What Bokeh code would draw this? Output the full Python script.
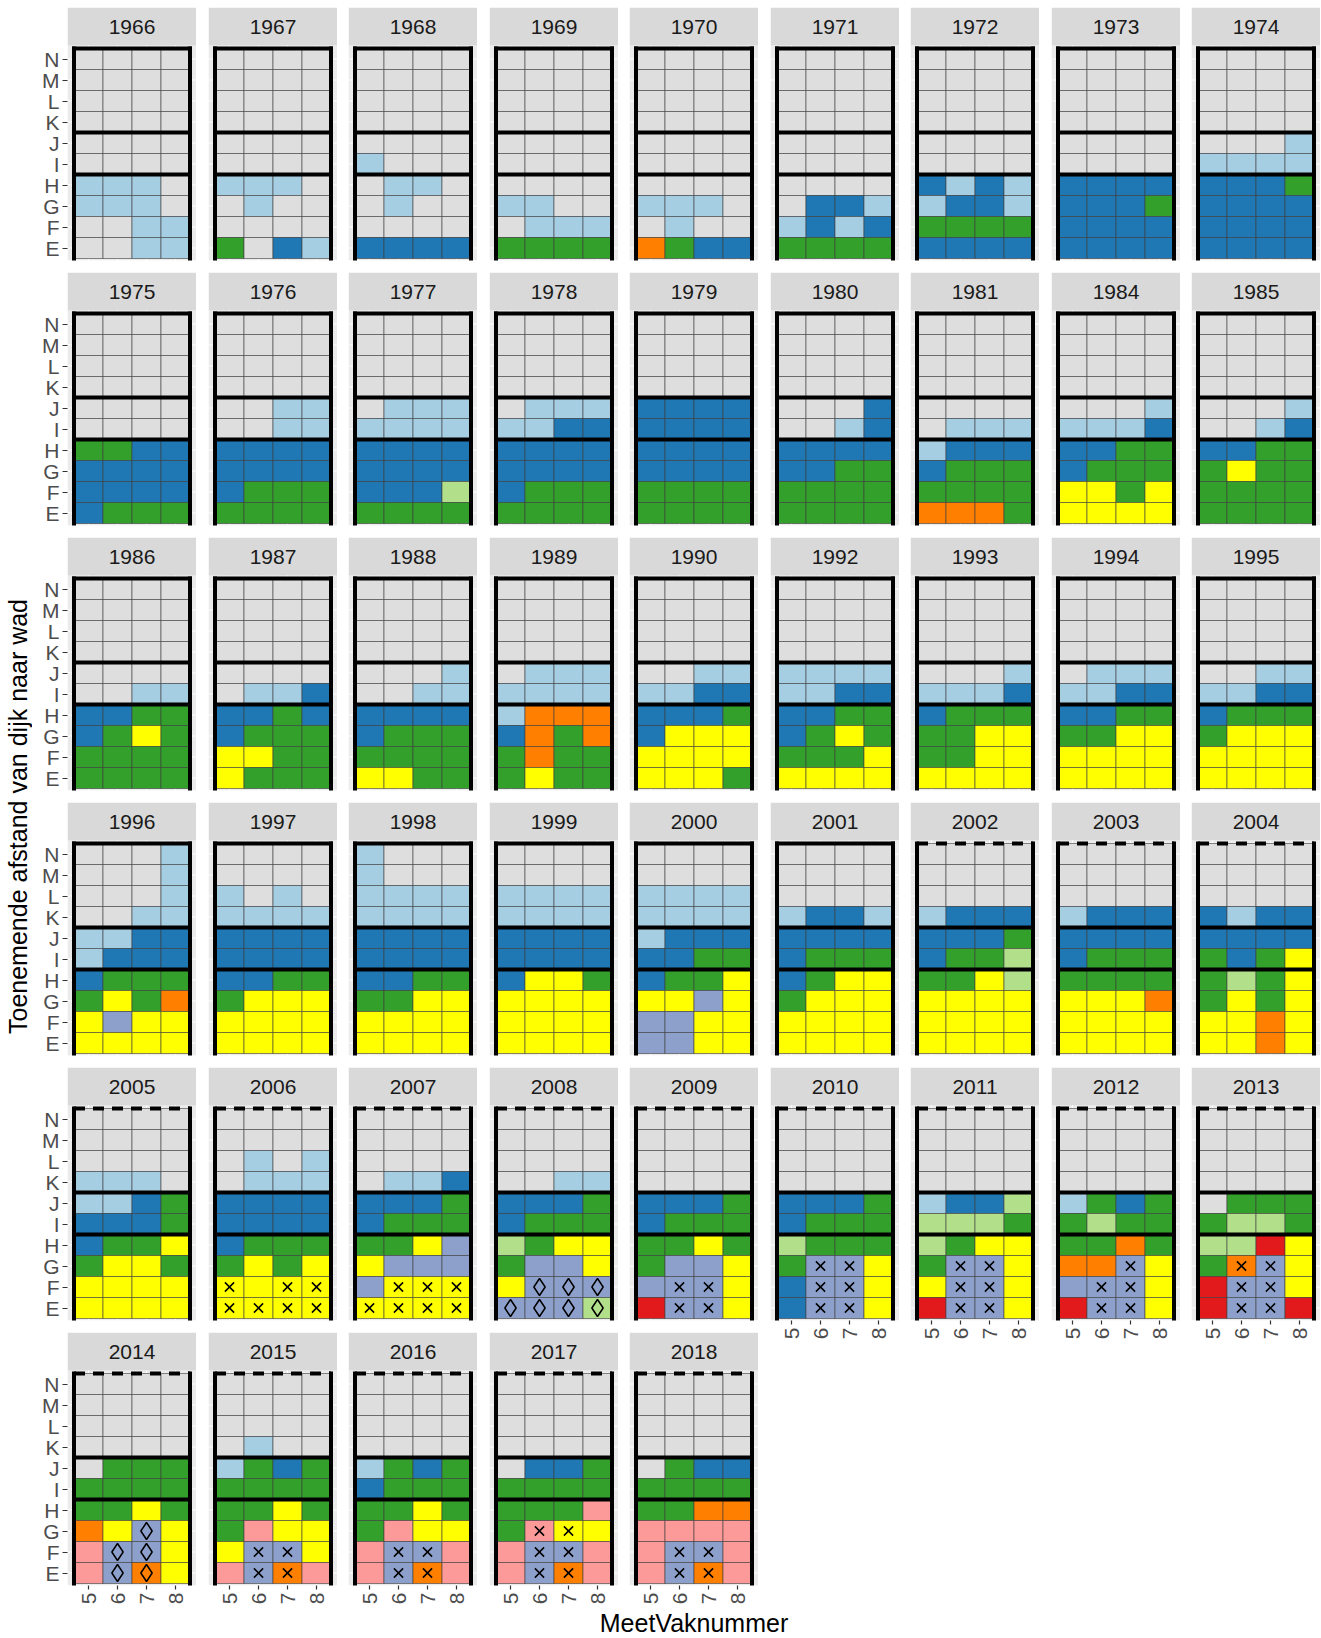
import math
from bokeh.plotting import figure
from bokeh.layouts import row, column
from bokeh.models import Range1d, FixedTicker, ColumnDataSource
from bokeh.core.properties import value
from bokeh.embed import file_html
from bokeh.resources import INLINE

# ---------------- data ----------------
YEARS = [1966, 1967, 1968, 1969, 1970, 1971, 1972, 1973, 1974,
         1975, 1976, 1977, 1978, 1979, 1980, 1981, 1984, 1985,
         1986, 1987, 1988, 1989, 1990, 1992, 1993, 1994, 1995,
         1996, 1997, 1998, 1999, 2000, 2001, 2002, 2003, 2004,
         2005, 2006, 2007, 2008, 2009, 2010, 2011, 2012, 2013,
         2014, 2015, 2016, 2017, 2018]

# class code per cell, rows listed N (top) ... E (bottom), columns 5 6 7 8
CLASS_GRID = [
    "gggg gggg gggg gggg gggg gggg aaag aaag ggaa ggaa",  # 1966
    "gggg gggg gggg gggg gggg gggg aaag gagg gggg Ggba",  # 1967
    "gggg gggg gggg gggg gggg aggg gaag gagg gggg bbbb",  # 1968
    "gggg gggg gggg gggg gggg gggg gggg aagg gaaa GGGG",  # 1969
    "gggg gggg gggg gggg gggg gggg gggg aaag gagg oGbb",  # 1970
    "gggg gggg gggg gggg gggg gggg gggg gbba abab GGGG",  # 1971
    "gggg gggg gggg gggg gggg gggg baba abba GGGG bbbb",  # 1972
    "gggg gggg gggg gggg gggg gggg bbbb bbbG bbbb bbbb",  # 1973
    "gggg gggg gggg gggg ggga aaaa bbbG bbbb bbbb bbbb",  # 1974
    "gggg gggg gggg gggg gggg gggg GGbb bbbb bbbb bGGG",  # 1975
    "gggg gggg gggg gggg ggaa ggaa bbbb bbbb bGGG GGGG",  # 1976
    "gggg gggg gggg gggg gaaa aaaa bbbb bbbb bbbl GGGG",  # 1977
    "gggg gggg gggg gggg gaaa aabb bbbb bbbb bGGG GGGG",  # 1978
    "gggg gggg gggg gggg bbbb bbbb bbbb bbbb GGGG GGGG",  # 1979
    "gggg gggg gggg gggg gggb ggab bbbb bbGG GGGG GGGG",  # 1980
    "gggg gggg gggg gggg gggg gaaa abbb bGGG GGGG oooG",  # 1981
    "gggg gggg gggg gggg ggga aaab bbGG bGGG yyGy yyyy",  # 1984
    "gggg gggg gggg gggg ggga ggab bbGG GyGG GGGG GGGG",  # 1985
    "gggg gggg gggg gggg gggg ggaa bbGG bGyG GGGG GGGG",  # 1986
    "gggg gggg gggg gggg gggg gaab bbGb bGGG yyGG yGGG",  # 1987
    "gggg gggg gggg gggg ggga ggaa bbbb bGGG GGGG yyGG",  # 1988
    "gggg gggg gggg gggg gaaa aaaa aooo boGo GoGG GyGG",  # 1989
    "gggg gggg gggg gggg ggaa aabb bbbG byyy yyyy yyyG",  # 1990
    "gggg gggg gggg gggg aaaa aabb bbGG bGyG GGGy yyyy",  # 1992
    "gggg gggg gggg gggg ggga aaab bGGG GGyy GGyy yyyy",  # 1993
    "gggg gggg gggg gggg gaaa aabb bbGG GGyy yyyy yyyy",  # 1994
    "gggg gggg gggg gggg ggaa aabb bGGG Gyyy yyyy yyyy",  # 1995
    "ggga ggga ggga ggaa aabb abbb bGGG GyGo yvyy yyyy",  # 1996
    "gggg gggg agag aaaa bbbb bbbb bbGG Gyyy yyyy yyyy",  # 1997
    "aggg aggg aaaa aaaa bbbb bbbb bbGG GGyy yyyy yyyy",  # 1998
    "gggg gggg aaaa aaaa bbbb bbbb byyG yyyy yyyy yyyy",  # 1999
    "gggg gggg aaaa aaaa abbb bbGG bGGy yyvy vvyy vvyy",  # 2000
    "gggg gggg gggg abba bbbb bGGG bGyy Gyyy yyyy yyyy",  # 2001
    "gggg gggg gggg abbb bbbG bGGl GGyl yyyy yyyy yyyy",  # 2002
    "gggg gggg gggg abbb bbbb bGGG GGGG yyyo yyyy yyyy",  # 2003
    "gggg gggg gggg babb bbbb GbGy GlGy GyGy yyoy yyoy",  # 2004
    "gggg gggg gggg aaag aabG bbbG bGGy GyyG yyyy yyyy",  # 2005
    "gggg gggg gaga gaaa bbbb bbbb bGGG GyGy yyyy yyyy",  # 2006
    "gggg gggg gggg gaab bbbG bGGG GGyv yvvv vyyy yyyy",  # 2007
    "gggg gggg gggg ggaa bbbG bGGG lGyy Gvvy yvvv vvvl",  # 2008
    "gggg gggg gggg gggg bbbG bGGG GGyG Gvvy vvvy rvvy",  # 2009
    "gggg gggg gggg gggg bbbG bGGG lGGG Gvvy bvvy bvvy",  # 2010
    "gggg gggg gggg gggg abbl lllG lGyy Gvvy yvvy rvvy",  # 2011
    "gggg gggg gggg gggg aGbG GlGG GGoG oovy vvvy rvvy",  # 2012
    "gggg gggg gggg gggg gGGG GllG llry Govy rvvy rvvr",  # 2013
    "gggg gggg gggg gggg gGGG GGGG GGyG oyvy pvvy pvoy",  # 2014
    "gggg gggg gggg gagg aGbG GGGG GGyG Gpyy yvvy pvop",  # 2015
    "gggg gggg gggg gggg aGbG bGGG GGyG Gpyy pvvp pvop",  # 2016
    "gggg gggg gggg gggg gbbG GGGG GGGp Gpyy pvvp pvop",  # 2017
    "gggg gggg gggg gggg gGbb GGGG GGoo pppp pvvp pvop",  # 2018
]

# symbols in rows G, F, E (x = cross, d = diamond)
MARK_YEARS = [2006, 2007, 2008, 2009, 2010, 2011, 2012, 2013, 2014, 2015, 2016, 2017, 2018]
MARK_GRID = [
    ".... x.xx xxxx",   # 2006
    ".... .xxx xxxx",   # 2007
    ".... .ddd dddd",   # 2008
    ".... .xx. .xx.",   # 2009
    ".xx. .xx. .xx.",   # 2010
    ".xx. .xx. .xx.",   # 2011
    "..x. .xx. .xx.",   # 2012
    ".xx. .xx. .xx.",   # 2013
    "..d. .dd. .dd.",   # 2014
    ".... .xx. .xx.",   # 2015
    ".... .xx. .xx.",   # 2016
    ".xx. .xx. .xx.",   # 2017
    ".... .xx. .xx.",   # 2018
]
MARK_ROWS = ["G", "F", "E"]

ROW_LABELS = ["E", "F", "G", "H", "I", "J", "K", "L", "M", "N"]
COL_VALUES = [5, 6, 7, 8]
COL_LABELS = ["5", "6", "7", "8"]
ZONE_TOPS = ["H", "J"]          # thick line above these rows
DASHED_FROM = 2002               # top edge dashed from this year on

X_TITLE = "MeetVaknummer"
Y_TITLE = "Toenemende afstand van dijk naar wad"

# ---------------- style ----------------
PALETTE = {
    "g": "#DEDEDE", "a": "#A6CEE3", "b": "#1F78B4", "l": "#B2DF8A",
    "G": "#33A02C", "p": "#FB9A99", "r": "#E31A1C", "o": "#FF7F00",
    "y": "#FFFF00", "v": "#8DA0CB",
}
FONT = "Liberation Sans"
NCOL = 9
FW, FH = 129, 253          # frame size per facet (panel + strip)
CW, CH = 29.0, 21.0        # px per cell
PAD_X = 6.5 / CW
PAD_B = 2.0 / CH
PAD_T = 3.0 / CH
GAPS_H = [12, 11, 12, 11, 12, 11, 12, 11]
GAP_V = 12
TOP_M = 7
LEFT_AXIS_W = 35
BOTTOM_AXIS_H = 22
YT_W = 31
YT_TOP = 25
TICK_FS = "21px"
TITLE_FS = "25px"

x_lo = min(COL_VALUES) - 0.5
x_hi = max(COL_VALUES) + 0.5
y_lo = -0.5
y_hi = len(ROW_LABELS) - 0.5
X0, X1 = x_lo - PAD_X, x_hi + PAD_X
Y0 = y_lo - PAD_B
PANEL_TOP = y_hi + PAD_T
Y1 = Y0 + FH / CH

mark_lookup = dict(zip(MARK_YEARS, MARK_GRID))


def style_axis(ax):
    ax.axis_line_color = None
    ax.major_tick_line_color = "#333333"
    ax.major_tick_line_width = 1.2
    ax.major_tick_out = 5
    ax.major_tick_in = 0
    ax.minor_tick_line_color = None
    ax.major_label_text_font = FONT
    ax.major_label_text_font_size = TICK_FS
    ax.major_label_text_color = "#4D4D4D"
    ax.major_label_standoff = 3


def make_panel(idx):
    yr = YEARS[idx]
    c = idx % NCOL
    r = idx // NCOL
    is_left = c == 0
    is_bottom = idx + NCOL >= len(YEARS)
    p = figure(frame_width=FW, frame_height=FH,
               x_range=Range1d(X0, X1), y_range=Range1d(Y0, Y1),
               output_backend="svg", toolbar_location=None, tools="",
               x_axis_location="below" if is_bottom else None,
               y_axis_location="left" if is_left else None,
               min_border_left=LEFT_AXIS_W if is_left else GAPS_H[c - 1],
               min_border_right=0, min_border_top=TOP_M if r == 0 else 0,
               min_border_bottom=BOTTOM_AXIS_H if is_bottom else GAP_V)
    p.outline_line_color = None
    p.background_fill_color = "white"
    p.border_fill_color = "white"
    p.grid.visible = False

    # panel background + strip
    p.quad(left=[X0], right=[X1], bottom=[Y0], top=[PANEL_TOP],
           fill_color="#EBEBEB", line_color=None)
    p.quad(left=[X0], right=[X1], bottom=[PANEL_TOP], top=[Y1],
           fill_color="#D9D9D9", line_color=None)
    p.text(x=[(X0 + X1) / 2], y=[(PANEL_TOP + Y1) / 2], text=[str(yr)],
           text_align="center", text_baseline="middle",
           text_font=value(FONT), text_font_size=TICK_FS, text_color="#1A1A1A")

    # white grid lines
    ys = list(range(len(ROW_LABELS)))
    p.segment(x0=[X0] * len(ys), x1=[X1] * len(ys), y0=ys, y1=ys,
              line_color="white", line_width=1)
    p.segment(x0=COL_VALUES, x1=COL_VALUES, y0=[Y0] * 4, y1=[PANEL_TOP] * 4,
              line_color="white", line_width=1)

    # cells
    rows_td = CLASS_GRID[idx].split()
    xs, yv, cols = [], [], []
    for k, rstr in enumerate(rows_td):
        yi = len(ROW_LABELS) - 1 - k
        for j, ch in enumerate(rstr):
            xs.append(COL_VALUES[j])
            yv.append(yi)
            cols.append(PALETTE[ch])
    src = ColumnDataSource(dict(x=xs, y=yv, color=cols))
    p.rect(x="x", y="y", width=1, height=1, source=src,
           fill_color="color", line_color="#3C3C3C", line_width=0.6)

    # markers
    if yr in mark_lookup:
        mx, my, dx, dy = [], [], [], []
        for rlab, rstr in zip(MARK_ROWS, mark_lookup[yr].split()):
            yi = ROW_LABELS.index(rlab)
            for j, ch in enumerate(rstr):
                if ch == "x":
                    mx.append(COL_VALUES[j]); my.append(yi)
                elif ch == "d":
                    dx.append(COL_VALUES[j]); dy.append(yi)
        if mx:
            p.scatter(x=mx, y=my, marker="x", size=13, line_color="black",
                      line_width=1.5)
        if dx:
            p.scatter(x=dx, y=dy, marker="diamond", size=17, fill_color=None,
                      line_color="black", line_width=1.5)

    # thick frame lines
    p.segment(x0=[x_lo, x_hi], x1=[x_lo, x_hi], y0=[Y0, Y0], y1=[y_hi, y_hi],
              line_color="black", line_width=4, line_cap="square")
    brk = [ROW_LABELS.index(z) + 0.5 for z in ZONE_TOPS]
    p.segment(x0=[x_lo] * len(brk), x1=[x_hi] * len(brk), y0=brk, y1=brk,
              line_color="black", line_width=4, line_cap="square")
    if yr >= DASHED_FROM:
        p.line(x=[x_lo, x_hi], y=[y_hi, y_hi], line_color="black",
               line_width=4, line_dash="11 8", line_cap="butt")
    else:
        p.segment(x0=[x_lo], x1=[x_hi], y0=[y_hi], y1=[y_hi],
                  line_color="black", line_width=4, line_cap="square")

    if is_left:
        ax = p.yaxis[0]
        ax.ticker = FixedTicker(ticks=list(range(len(ROW_LABELS))))
        ax.major_label_overrides = {i: lab for i, lab in enumerate(ROW_LABELS)}
        style_axis(ax)
    if is_bottom:
        ax = p.xaxis[0]
        ax.ticker = FixedTicker(ticks=COL_VALUES)
        ax.major_label_overrides = {v: lab for v, lab in zip(COL_VALUES, COL_LABELS)}
        style_axis(ax)
        ax.major_tick_out = 4
        ax.major_label_orientation = math.pi / 2
    return p


columns = [[] for _ in range(NCOL)]
for i in range(len(YEARS)):
    columns[i % NCOL].append(make_panel(i))

nrows = math.ceil(len(YEARS) / NCOL)
TOT_H = TOP_M + (nrows - 1) * (FH + GAP_V) + FH + BOTTOM_AXIS_H

# y-axis title
yt = figure(frame_width=1, frame_height=TOT_H - YT_TOP, min_border_top=YT_TOP,
            min_border_bottom=0, min_border_left=YT_W, min_border_right=0,
            x_range=Range1d(0, 1), y_range=Range1d(0, 1),
            x_axis_location=None, y_axis_location="left",
            output_backend="svg", toolbar_location=None, tools="")
yt.outline_line_color = None
yt.grid.visible = False
yax = yt.yaxis[0]
yax.ticker = FixedTicker(ticks=[])
yax.axis_line_color = None
yax.major_tick_line_color = None
yax.minor_tick_line_color = None
yax.major_label_text_font_size = "0px"
yax.major_label_standoff = 0
yax.axis_label = Y_TITLE
yax.axis_label_standoff = 0
yax.axis_label_text_font = FONT
yax.axis_label_text_font_size = TITLE_FS
yax.axis_label_text_font_style = "normal"
yax.axis_label_text_color = "black"

# x-axis title
span_w = NCOL * FW + sum(GAPS_H)
xt = figure(frame_width=span_w, frame_height=1,
            min_border_left=YT_W + 1 + LEFT_AXIS_W, min_border_right=0,
            min_border_top=0, min_border_bottom=0,
            x_range=Range1d(0, 1), y_range=Range1d(0, 1),
            x_axis_location="below", y_axis_location=None,
            output_backend="svg", toolbar_location=None, tools="")
xt.outline_line_color = None
xt.grid.visible = False
xax = xt.xaxis[0]
xax.ticker = FixedTicker(ticks=[])
xax.axis_line_color = None
xax.major_tick_line_color = None
xax.minor_tick_line_color = None
xax.major_label_text_font_size = "0px"
xax.major_label_standoff = 0
xax.axis_label = X_TITLE
xax.axis_label_standoff = 0
xax.axis_label_text_font = FONT
xax.axis_label_text_font_size = TITLE_FS
xax.axis_label_text_font_style = "normal"
xax.axis_label_text_color = "black"

grid_row = row(yt, *[column(*cfigs) for cfigs in columns])
layout = column(grid_row, xt)

open("out.html", "w").write(file_html(layout, INLINE))
